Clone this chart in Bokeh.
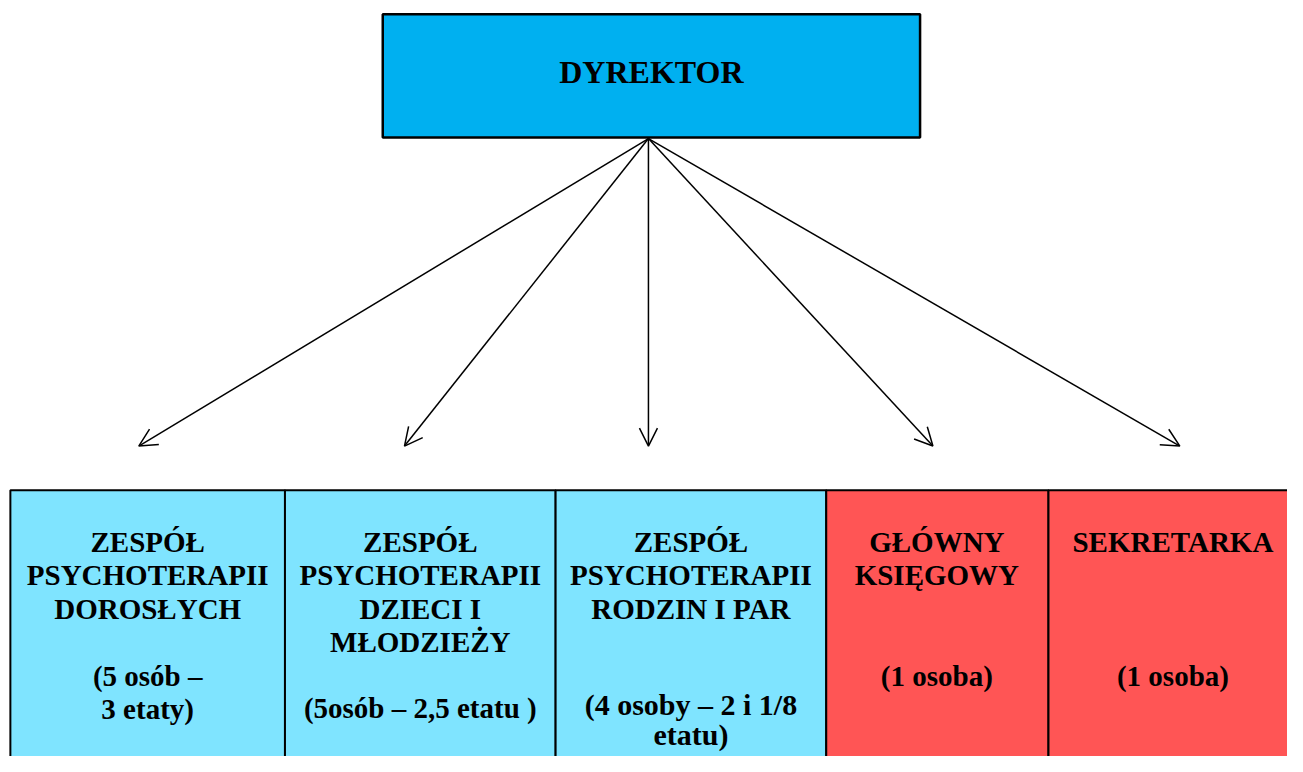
from bokeh.plotting import figure
from bokeh.models import ColumnDataSource, Arrow, OpenHead, Range1d
from bokeh.core.properties import value
from bokeh.embed import file_html
from bokeh.resources import INLINE

# ---- data ----
top_label = "DYREKTOR"
unit_names = [
    "ZESPÓŁ\nPSYCHOTERAPII\nDOROSŁYCH",
    "ZESPÓŁ\nPSYCHOTERAPII\nDZIECI I\nMŁODZIEŻY",
    "ZESPÓŁ\nPSYCHOTERAPII\nRODZIN I PAR",
    "GŁÓWNY\nKSIĘGOWY",
    "SEKRETARKA",
]
unit_staff = [
    "(5 osób –\n3 etaty)",
    "(5osób – 2,5 etatu )",
    "(4 osoby – 2 i 1/8\netatu)",
    "(1 osoba)",
    "(1 osoba)",
]
unit_colors = ["#7FE4FF", "#7FE4FF", "#7FE4FF", "#FF5555", "#FF5555"]

# ---- layout (reference pixel coordinates, y down) ----
W, H = 1287, 756
p = figure(width=W, height=H, output_backend="svg", toolbar_location=None,
           x_range=Range1d(0, 1303), y_range=Range1d(772, 0),
           min_border=0, outline_line_color=None)
p.axis.visible = False
p.grid.visible = False
p.background_fill_color = "white"
p.border_fill_color = "white"

font = value("Liberation Serif")

# director box
p.quad(left=[387], right=[931], top=[14], bottom=[140],
       fill_color="#00B0F0", line_color="black", line_width=2.5)
p.text(x=[659], y=[73], text=[top_label], text_font=font, text_font_style="bold",
       text_font_size="32px", text_align="center", text_baseline="middle", text_color="black")

# bottom boxes
edges = [10, 288, 562, 836, 1061, 1330]
lefts = edges[:-1]
rights = edges[1:]
p.quad(left=lefts, right=rights, top=[500] * 5, bottom=[840] * 5,
       fill_color=unit_colors, line_color="black", line_width=2)

centers = [149, 425, 699, 948, 1187]
staff_y = [690, 722, 719, 690, 690]
line_h = 34
tx, ty, tt, ts = [], [], [], []
for i, (nm, st) in enumerate(zip(unit_names, unit_staff)):
    for j, ln in enumerate(nm.split("\n")):
        tx.append(centers[i]); ty.append(553 + j * line_h); tt.append(ln); ts.append("29px")
    for j, ln in enumerate(st.split("\n")):
        tx.append(centers[i]); ty.append(staff_y[i] + j * (31 if i == 2 else 33)); tt.append(ln)
        ts.append("30px" if i == 2 else "29px")
src = ColumnDataSource(dict(x=tx, y=ty, text=tt, size=ts))
p.text(x="x", y="y", text="text", text_font_size="size", source=src, text_font=font,
       text_font_style="bold", text_align="center", text_baseline="middle", text_color="black")

# arrows
arrow_ends = [140, 409, 656, 944, 1194]
asrc = ColumnDataSource(dict(xs=[656] * 5, ys=[141] * 5, xe=arrow_ends, ye=[455] * 5))
p.add_layout(Arrow(x_start="xs", y_start="ys", x_end="xe", y_end="ye", source=asrc,
                   line_color="black", line_width=1.5,
                   end=OpenHead(size=18, line_color="black", line_width=1.5)))

open("out.html", "w").write(file_html(p, INLINE))
